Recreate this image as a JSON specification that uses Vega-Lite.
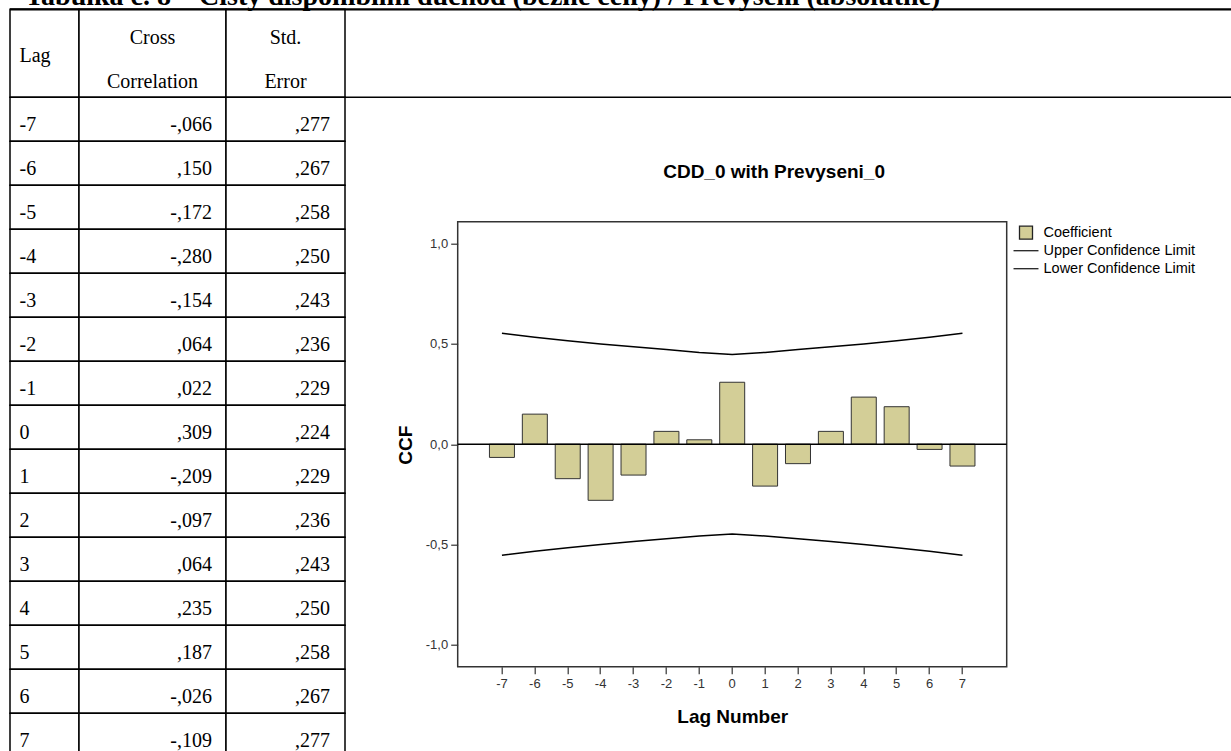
{
  "$schema": "https://vega.github.io/schema/vega-lite/v6.json",
  "autosize": {"type": "none"},
  "padding": {"left": 457.7, "top": 221.7, "right": 224.3, "bottom": 84.3},
  "width": 549,
  "height": 445,
  "background": "white",
  "config": {
    "view": {"fill": "#f0f0f0", "stroke": "#333333", "strokeWidth": 1.5},
    "font": "Liberation Sans"
  },
  "datasets": {
    "ccf": [
      {"lag": -7, "cc": -0.066, "se": 0.277, "upper": 0.554, "lower": -0.554},
      {"lag": -6, "cc": 0.150, "se": 0.267, "upper": 0.534, "lower": -0.534},
      {"lag": -5, "cc": -0.172, "se": 0.258, "upper": 0.516, "lower": -0.516},
      {"lag": -4, "cc": -0.280, "se": 0.250, "upper": 0.500, "lower": -0.500},
      {"lag": -3, "cc": -0.154, "se": 0.243, "upper": 0.486, "lower": -0.486},
      {"lag": -2, "cc": 0.064, "se": 0.236, "upper": 0.472, "lower": -0.472},
      {"lag": -1, "cc": 0.022, "se": 0.229, "upper": 0.458, "lower": -0.458},
      {"lag": 0, "cc": 0.309, "se": 0.224, "upper": 0.448, "lower": -0.448},
      {"lag": 1, "cc": -0.209, "se": 0.229, "upper": 0.458, "lower": -0.458},
      {"lag": 2, "cc": -0.097, "se": 0.236, "upper": 0.472, "lower": -0.472},
      {"lag": 3, "cc": 0.064, "se": 0.243, "upper": 0.486, "lower": -0.486},
      {"lag": 4, "cc": 0.235, "se": 0.250, "upper": 0.500, "lower": -0.500},
      {"lag": 5, "cc": 0.187, "se": 0.258, "upper": 0.516, "lower": -0.516},
      {"lag": 6, "cc": -0.026, "se": 0.267, "upper": 0.534, "lower": -0.534},
      {"lag": 7, "cc": -0.109, "se": 0.277, "upper": 0.554, "lower": -0.554}
    ],
    "series": [
      {"series": "Coefficient"},
      {"series": "Upper Confidence Limit"},
      {"series": "Lower Confidence Limit"}
    ]
  },
  "layer": [
    {
      "data": {"name": "ccf"},
      "layer": [
        {
          "mark": {"type": "bar", "fill": "#d3ce97", "stroke": "#333333", "strokeWidth": 1},
          "encoding": {
            "x": {"field": "lag", "type": "ordinal",
              "scale": {"domain": [-7,-6,-5,-4,-3,-2,-1,0,1,2,3,4,5,6,7], "paddingInner": 0.24, "paddingOuter": 0.965},
              "axis": {"orient": "bottom", "title": "Lag Number", "labelAngle": 0, "tickSize": 7, "tickColor": "#333333", "tickWidth": 1.2, "domain": false, "grid": false, "labelPadding": 4, "labelFont": "Liberation Sans", "labelFontSize": 13, "labelColor": "#333333", "titleFont": "Liberation Sans", "titleFontSize": 19, "titleFontWeight": "bold", "titleColor": "#000000", "titleX": 274.5, "titleY": 50, "titleAlign": "center", "titleBaseline": "middle"}},
            "y": {"field": "cc", "type": "quantitative",
              "scale": {"domain": [-1.11, 1.11], "nice": false, "zero": false},
              "axis": {"orient": "left", "title": "CCF", "values": [-1, -0.5, 0, 0.5, 1], "labelExpr": "replace(replace(format(datum.value, '.1f'), '.', ','), '\u2212', '-')", "tickSize": 7, "tickColor": "#333333", "tickWidth": 1.2, "domain": false, "grid": false, "labelPadding": 3, "labelFont": "Liberation Sans", "labelFontSize": 13, "labelColor": "#333333", "titleFont": "Liberation Sans", "titleFontSize": 19, "titleFontWeight": "bold", "titleColor": "#000000", "titleX": -52.7, "titleY": 223, "titleAngle": 270, "titleAlign": "center", "titleBaseline": "middle"}}
          }
        },
        {
          "data": {"values": [{}]},
          "mark": {"type": "rule", "color": "#000000", "strokeWidth": 1.5},
          "encoding": {"y": {"datum": 0, "type": "quantitative"}}
        },
        {
          "mark": {"type": "line", "color": "#000000", "strokeWidth": 1.5},
          "encoding": {
            "x": {"field": "lag", "type": "ordinal"},
            "y": {"field": "upper", "type": "quantitative", "title": "CCF"}
          }
        },
        {
          "mark": {"type": "line", "color": "#000000", "strokeWidth": 1.5},
          "encoding": {
            "x": {"field": "lag", "type": "ordinal"},
            "y": {"field": "lower", "type": "quantitative", "title": "CCF"}
          }
        }
      ]
    },
    {
      "data": {"name": "ccf"},
      "resolve": {"scale": {"x": "independent"}},
      "layer": [
        {
          "layer": [
            {
              "mark": {"type": "rect", "fill": "#ffffff", "stroke": "#000000", "strokeWidth": 1.5},
              "encoding": {
                "x": {"datum": "Lag", "type": "nominal", "scale": {"type": "band", "domain": ["Lag"], "range": [-447.7, -378.7], "paddingInner": 0, "paddingOuter": 0}, "axis": null},
                "y": {"field": "lag", "type": "ordinal", "scale": {"type": "band", "domain": ["H1","H2",-7,-6,-5,-4,-3,-2,-1,0,1,2,3,4,5,6,7], "range": [-212.4, 535.6], "paddingInner": 0, "paddingOuter": 0}, "axis": null}
              }
            },
            {
              "data": {"values": [{}]},
              "mark": {"type": "rect", "fill": "#ffffff", "stroke": "#000000", "strokeWidth": 1.5, "yOffset": -22, "y2Offset": 22},
              "encoding": {
                "x": {"datum": "Lag", "type": "nominal"},
                "y": {"datum": "H1", "type": "ordinal"},
                "y2": {"datum": "H2"}
              }
            },
            {
              "mark": {"type": "text", "align": "left", "baseline": "alphabetic", "dx": -25, "dy": 12, "font": "Liberation Serif", "fontSize": 20, "fill": "#000000"},
              "encoding": {
                "x": {"datum": "Lag", "type": "nominal"},
                "y": {"field": "lag", "type": "ordinal"},
                "text": {"field": "lag", "type": "ordinal"}
              }
            },
            {
              "data": {"values": [{}]},
              "mark": {"type": "text", "text": "Lag", "align": "left", "baseline": "alphabetic", "dx": -25, "dy": -13, "font": "Liberation Serif", "fontSize": 20, "fill": "#000000"},
              "encoding": {
                "x": {"datum": "Lag", "type": "nominal"},
                "y": {"datum": "H2", "type": "ordinal"}
              }
            }
          ]
        },
        {
          "layer": [
            {
              "mark": {"type": "rect", "fill": "#ffffff", "stroke": "#000000", "strokeWidth": 1.5},
              "encoding": {
                "x": {"datum": "Cross Correlation", "type": "nominal", "scale": {"type": "band", "domain": ["Cross Correlation"], "range": [-378.7, -231.7], "paddingInner": 0, "paddingOuter": 0}, "axis": null},
                "y": {"field": "lag", "type": "ordinal", "axis": null}
              }
            },
            {
              "data": {"values": [{}]},
              "mark": {"type": "rect", "fill": "#ffffff", "stroke": "#000000", "strokeWidth": 1.5, "yOffset": -22, "y2Offset": 22},
              "encoding": {
                "x": {"datum": "Cross Correlation", "type": "nominal"},
                "y": {"datum": "H1", "type": "ordinal"},
                "y2": {"datum": "H2"}
              }
            },
            {
              "mark": {"type": "text", "align": "right", "baseline": "alphabetic", "dx": 59.5, "dy": 12, "font": "Liberation Serif", "fontSize": 20, "fill": "#000000",
                "text": {"expr": "replace(replace(format(datum.cc, '.3f'), '0.', ','), '\u2212', '-')"}},
              "encoding": {
                "x": {"datum": "Cross Correlation", "type": "nominal"},
                "y": {"field": "lag", "type": "ordinal"}
              }
            },
            {
              "data": {"values": [{}]},
              "mark": {"type": "text", "text": "Cross", "align": "center", "baseline": "alphabetic", "dy": 12.5, "font": "Liberation Serif", "fontSize": 20, "fill": "#000000"},
              "encoding": {
                "x": {"datum": "Cross Correlation", "type": "nominal"},
                "y": {"datum": "H1", "type": "ordinal"}
              }
            },
            {
              "data": {"values": [{}]},
              "mark": {"type": "text", "text": "Correlation", "align": "center", "baseline": "alphabetic", "dy": 12.5, "font": "Liberation Serif", "fontSize": 20, "fill": "#000000"},
              "encoding": {
                "x": {"datum": "Cross Correlation", "type": "nominal"},
                "y": {"datum": "H2", "type": "ordinal"}
              }
            }
          ]
        },
        {
          "layer": [
            {
              "mark": {"type": "rect", "fill": "#ffffff", "stroke": "#000000", "strokeWidth": 1.5},
              "encoding": {
                "x": {"datum": "Std. Error", "type": "nominal", "scale": {"type": "band", "domain": ["Std. Error"], "range": [-231.7, -112.7], "paddingInner": 0, "paddingOuter": 0}, "axis": null},
                "y": {"field": "lag", "type": "ordinal", "axis": null}
              }
            },
            {
              "data": {"values": [{}]},
              "mark": {"type": "rect", "fill": "#ffffff", "stroke": "#000000", "strokeWidth": 1.5, "yOffset": -22, "y2Offset": 22},
              "encoding": {
                "x": {"datum": "Std. Error", "type": "nominal"},
                "y": {"datum": "H1", "type": "ordinal"},
                "y2": {"datum": "H2"}
              }
            },
            {
              "mark": {"type": "text", "align": "right", "baseline": "alphabetic", "dx": 44.5, "dy": 12, "font": "Liberation Serif", "fontSize": 20, "fill": "#000000",
                "text": {"expr": "replace(replace(format(datum.se, '.3f'), '0.', ','), '\u2212', '-')"}},
              "encoding": {
                "x": {"datum": "Std. Error", "type": "nominal"},
                "y": {"field": "lag", "type": "ordinal"}
              }
            },
            {
              "data": {"values": [{}]},
              "mark": {"type": "text", "text": "Std.", "align": "center", "baseline": "alphabetic", "dy": 12.5, "font": "Liberation Serif", "fontSize": 20, "fill": "#000000"},
              "encoding": {
                "x": {"datum": "Std. Error", "type": "nominal"},
                "y": {"datum": "H1", "type": "ordinal"}
              }
            },
            {
              "data": {"values": [{}]},
              "mark": {"type": "text", "text": "Error", "align": "center", "baseline": "alphabetic", "dy": 12.5, "font": "Liberation Serif", "fontSize": 20, "fill": "#000000"},
              "encoding": {
                "x": {"datum": "Std. Error", "type": "nominal"},
                "y": {"datum": "H2", "type": "ordinal"}
              }
            }
          ]
        },
        {
          "data": {"values": [{}]},
          "layer": [
            {
              "mark": {"type": "rule", "color": "#000000", "strokeWidth": 2.2, "yOffset": -22},
              "encoding": {
                "x": {"datum": "start", "type": "nominal", "scale": {"type": "point", "domain": ["start", "end"], "range": [-447.7, 773.3], "padding": 0}, "axis": null},
                "x2": {"datum": "end"},
                "y": {"datum": "H1", "type": "ordinal", "axis": null}
              }
            },
            {
              "mark": {"type": "rule", "color": "#000000", "strokeWidth": 1.5, "yOffset": -22},
              "encoding": {
                "x": {"datum": "start", "type": "nominal"},
                "x2": {"datum": "end"},
                "y": {"datum": -7, "type": "ordinal"}
              }
            },
            {
              "mark": {"type": "text", "text": "Tabulka č. 8 – Čistý disponibilní důchod (běžné ceny) / Převýšení (absolutně)", "align": "left", "baseline": "alphabetic", "dx": 15, "dy": -26.5, "font": "Liberation Serif", "fontSize": 28, "fontWeight": "bold", "fill": "#000000"},
              "encoding": {
                "x": {"datum": "start", "type": "nominal"},
                "y": {"datum": "H1", "type": "ordinal"}
              }
            }
          ]
        }
      ]
    },
    {
      "data": {"values": [{}]},
      "mark": {"type": "tick", "opacity": 0},
      "encoding": {
        "x": {"datum": 0, "type": "quantitative", "scale": {"domain": [0, 1]},
          "axis": {"orient": "top", "title": "CDD_0 with Prevyseni_0", "labels": false, "ticks": false, "domain": false, "grid": false, "titleFont": "Liberation Sans", "titleFontSize": 19, "titleFontWeight": "bold", "titleColor": "#000000", "titleX": 205, "titleY": -44, "titleAlign": "left", "titleBaseline": "alphabetic"}}
      }
    },
    {
      "data": {"name": "series"},
      "mark": {"type": "point", "filled": true, "opacity": 0, "stroke": "#222222", "strokeWidth": 1.3},
      "encoding": {
        "color": {"field": "series", "type": "nominal",
          "scale": {"domain": ["Coefficient", "Upper Confidence Limit", "Lower Confidence Limit"], "range": ["#d3ce97", "#000000", "#000000"]},
          "legend": {"title": null, "orient": "none", "legendX": 560.8, "legendY": 3.5, "padding": 0, "labelFont": "Liberation Sans", "labelFontSize": 14.5, "labelColor": "#000000", "labelOffset": 10, "symbolSize": 169, "rowPadding": 0, "gridAlign": "all", "symbolOpacity": 1, "symbolStrokeWidth": 1.3}},
        "shape": {"field": "series", "type": "nominal",
          "scale": {"domain": ["Coefficient", "Upper Confidence Limit", "Lower Confidence Limit"], "range": ["M-1,-1H1V1H-1Z", "M-1.92,0H1.92", "M-1.92,0H1.92"]},
          "legend": {"title": null, "orient": "none", "legendX": 560.8, "legendY": 3.5, "padding": 0, "labelFont": "Liberation Sans", "labelFontSize": 14.5, "labelColor": "#000000", "labelOffset": 10, "symbolSize": 169, "rowPadding": 0, "gridAlign": "all", "symbolOpacity": 1, "symbolStrokeWidth": 1.3}}
      }
    }
  ],
  "resolve": {"scale": {"x": "independent", "y": "independent"}}
}
